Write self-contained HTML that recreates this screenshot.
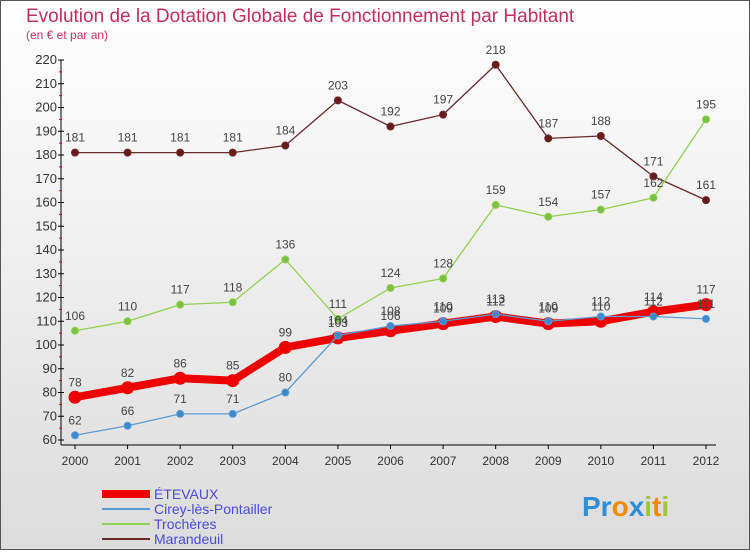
<!DOCTYPE html>
<html><head><meta charset="utf-8"><style>
body{margin:0;width:750px;height:550px;overflow:hidden;font-family:"Liberation Sans",sans-serif}
svg text{font-family:"Liberation Sans",sans-serif}
</style></head><body>
<svg id="c" width="750" height="550" xmlns="http://www.w3.org/2000/svg">
<defs><linearGradient id="bg" x1="0" y1="0" x2="0" y2="1"><stop offset="0" stop-color="#ffffff"/><stop offset="1" stop-color="#dcdcdc"/></linearGradient></defs>
<rect x="0.5" y="0.5" width="749" height="549" fill="url(#bg)" stroke="#555"/>
<text x="26" y="22" font-size="19" fill="#c0305a">Evolution de la Dotation Globale de Fonctionnement par Habitant</text>
<text x="26" y="39" font-size="12" fill="#c0305a">(en € et par an)</text>
<g id="axes"></g><g id="series"></g>
<g>
<line x1="102" y1="494" x2="150" y2="494" stroke="#ee0000" stroke-width="8"/>
<text x="154" y="499" font-size="14" fill="#4b4bd8">ÉTEVAUX</text>
<line x1="102" y1="509" x2="150" y2="509" stroke="#5b9bd5" stroke-width="2"/>
<text x="154" y="514" font-size="14" fill="#4b4bd8">Cirey-lès-Pontailler</text>
<line x1="102" y1="524" x2="150" y2="524" stroke="#92d050" stroke-width="2"/>
<text x="154" y="529" font-size="14" fill="#4b4bd8">Trochères</text>
<line x1="102" y1="539" x2="150" y2="539" stroke="#6b2a2a" stroke-width="2"/>
<text x="154" y="544" font-size="14" fill="#4b4bd8">Marandeuil</text>
</g>
<text x="582" y="516" font-size="28" font-weight="bold"><tspan fill="#2e8fd8">Pr</tspan><tspan fill="#f08a00">o</tspan><tspan fill="#2e8fd8">x</tspan><tspan fill="#9bc832">i</tspan><tspan fill="#f08a00">t</tspan><tspan fill="#9bc832">i</tspan></text>
</svg>
<script>
const years=[2000,2001,2002,2003,2004,2005,2006,2007,2008,2009,2010,2011,2012];
const yTicks=[60,70,80,90,100,110,120,130,140,150,160,170,180,190,200,210,220];
const etevaux=[78,82,86,85,99,103,106,109,112,109,110,114,117];
const cirey=[62,66,71,71,80,104,108,110,113,110,112,112,111];
const trocheres=[106,110,117,118,136,111,124,128,159,154,157,162,195];
const marandeuil=[181,181,181,181,184,203,192,197,218,187,188,171,161];
const NS="http://www.w3.org/2000/svg";
const X0=75,X1=706,Y0=440,Y1=60,VMIN=60,VMAX=220;
const xs=i=>X0+(X1-X0)*i/(years.length-1);
const ys=v=>Y0-(v-VMIN)*(Y0-Y1)/(VMAX-VMIN);
function mk(t,a,p){const e=document.createElementNS(NS,t);for(const k in a)e.setAttribute(k,a[k]);p.appendChild(e);return e;}
const ax=document.getElementById('axes');
let l=mk('line',{x1:61,y1:Y1,x2:61,y2:Y0+5,stroke:'#000'},ax);


l=mk('line',{x1:61,y1:Y0+5,x2:X1+10,y2:Y0+5,stroke:'#000'},ax);


yTicks.forEach(v=>{const y=ys(v);
 mk('line',{x1:58,y1:y,x2:64,y2:y,stroke:'#000'},ax);
 if(v<VMAX) mk('line',{x1:59,y1:ys(v+5),x2:62,y2:ys(v+5),stroke:'#e00'},ax);
 const t=mk('text',{x:57,y:y+4,'font-size':13,fill:'#333','text-anchor':'end'},ax);t.textContent=v;
 
 });
years.forEach((yr,i)=>{const x=xs(i);
 mk('line',{x1:x,y1:Y0+5,x2:x,y2:Y0+9,stroke:'#000'},ax);
 const t=mk('text',{x:x,y:Y0+25,'font-size':12,fill:'#333','text-anchor':'middle'},ax);t.textContent=yr;
 
 });
const sg=document.getElementById('series');
function draw(data,name,color,w,r,dot){
 const g=mk('g',{},sg);
 
 
 const p=mk('polyline',{points:data.map((v,i)=>xs(i)+','+ys(v)).join(' '),fill:'none',stroke:color,'stroke-width':w,'stroke-linejoin':'round'},g);
 
 
 data.forEach((v,i)=>{const c=mk('circle',{cx:xs(i),cy:ys(v),r:r,fill:dot,stroke:color,'stroke-width':1},g);
  
  
  const t=mk('text',{x:xs(i),y:ys(v)-11,'font-size':12,fill:'#444','text-anchor':'middle'},g);t.textContent=v;
  
  });
}
draw(marandeuil,'marandeuil','#6b2a2a',1.3,3.5,'#6b1a1a');
draw(trocheres,'trocheres','#92d050',1.3,3.5,'#7ac143');
draw(etevaux,'etevaux','#ee0000',8,6,'#ee0000');
draw(cirey,'cirey','#5b9bd5',1.3,3.5,'#3a8ad0');
</script>
</body></html>
